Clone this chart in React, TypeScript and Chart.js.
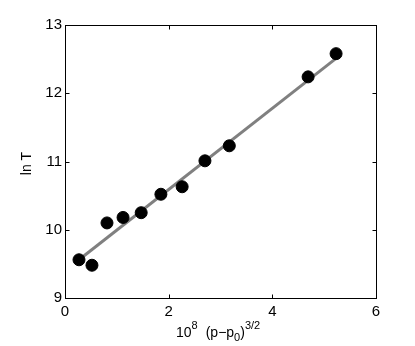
import React, { useEffect, useRef } from "react";
import { Chart, registerables } from "chart.js";

Chart.register(...registerables);

const xValues = [0.27, 0.52, 0.81, 1.12, 1.47, 1.85, 2.26, 2.70, 3.17, 4.69, 5.23];
const yValues = [9.56, 9.48, 10.10, 10.18, 10.25, 10.52, 10.63, 11.01, 11.23, 12.24, 12.58];
const fitX = [0.27, 5.23];
const fitY = [9.56, 12.51];
const xTicks = [0, 2, 4, 6];
const yTicks = [9, 10, 11, 12, 13];
const yTitle = "ln T";

const FONT = "'Liberation Sans', Arial, sans-serif";

const boxPlugin = {
  id: "boxPlugin",
  afterDraw(chart: any) {
    const { ctx, chartArea, scales } = chart;
    const { left, right, top, bottom } = chartArea;
    ctx.save();
    ctx.strokeStyle = "#000";
    ctx.lineWidth = 1;
    const L = Math.round(left) + 0.5;
    const R = Math.round(right) + 0.5;
    const T = Math.round(top) + 0.5;
    const B = Math.round(bottom) + 0.5;
    ctx.strokeRect(L, T, R - L, B - T);
    const tl = 4;
    ctx.beginPath();
    xTicks.forEach((v) => {
      const px = Math.round(scales.x.getPixelForValue(v)) + 0.5;
      ctx.moveTo(px, B);
      ctx.lineTo(px, B - tl);
      ctx.moveTo(px, T);
      ctx.lineTo(px, T + tl);
    });
    yTicks.forEach((v) => {
      const py = Math.round(scales.y.getPixelForValue(v)) + 0.5;
      ctx.moveTo(L, py);
      ctx.lineTo(L + tl, py);
      ctx.moveTo(R, py);
      ctx.lineTo(R - tl, py);
    });
    ctx.stroke();

    // y title
    ctx.fillStyle = "#000";
    ctx.font = `14px ${FONT}`;
    ctx.textAlign = "center";
    ctx.textBaseline = "middle";
    ctx.save();
    ctx.translate(27, (top + bottom) / 2 + 2);
    ctx.rotate(-Math.PI / 2);
    ctx.fillText(yTitle, 0, 0);
    ctx.restore();

    // x title: 10^8 (p−p_0)^{3/2}
    ctx.textAlign = "left";
    ctx.textBaseline = "alphabetic";
    const base = 337;
    const big = `14px ${FONT}`;
    const small = `11px ${FONT}`;
    let x = 176;
    const draw = (t: string, f: string, dy: number) => {
      ctx.font = f;
      ctx.fillText(t, x, base + dy);
      x += ctx.measureText(t).width;
    };
    draw("10", big, 0);
    draw("8", small, -8);
    x += 8;
    draw("(p\u2212p", big, 0);
    draw("0", small, 4);
    draw(")", big, 0);
    draw("3/2", small, -8);
    ctx.restore();
  },
};

export default function App() {
  const ref = useRef<HTMLCanvasElement>(null);
  useEffect(() => {
    if (!ref.current) return;
    const chart = new Chart(ref.current, {
      type: "scatter",
      data: {
        datasets: [
          {
            type: "scatter",
            data: xValues.map((x, i) => ({ x, y: yValues[i] })),
            backgroundColor: "#000",
            borderColor: "#000",
            pointRadius: 6,
            pointHoverRadius: 6,
            order: 0,
          },
          {
            type: "line",
            data: fitX.map((x, i) => ({ x, y: fitY[i] })),
            borderColor: "#808080",
            borderWidth: 3,
            pointRadius: 0,
            showLine: true,
            fill: false,
            order: 1,
          } as any,
        ],
      },
      options: {
        animation: false,
        responsive: false,
        layout: { padding: { left: 0, top: 25, right: 39, bottom: 0 } },
        plugins: { legend: { display: false }, tooltip: { enabled: false } },
        scales: {
          x: {
            type: "linear",
            min: 0,
            max: 6,
            afterFit: (s: any) => {
              s.height = 48;
            },
            grid: { display: false, drawTicks: false },
            border: { display: false },
            ticks: {
              stepSize: 2,
              color: "#000",
              padding: 5,
              font: { family: FONT, size: 15 },
            },
          },
          y: {
            type: "linear",
            min: 9,
            max: 13,
            afterFit: (s: any) => {
              s.width = 65;
            },
            grid: { display: false, drawTicks: false },
            border: { display: false },
            ticks: {
              stepSize: 1,
              color: "#000",
              padding: 3,
              font: { family: FONT, size: 15 },
            },
          },
        },
      },
      plugins: [boxPlugin],
    });
    return () => chart.destroy();
  }, []);
  return (
    <div style={{ position: "absolute", left: 0, top: 0, width: 415, height: 346, background: "#fff" }}>
      <canvas ref={ref} width={415} height={346} style={{ width: 415, height: 346 }} />
    </div>
  );
}
